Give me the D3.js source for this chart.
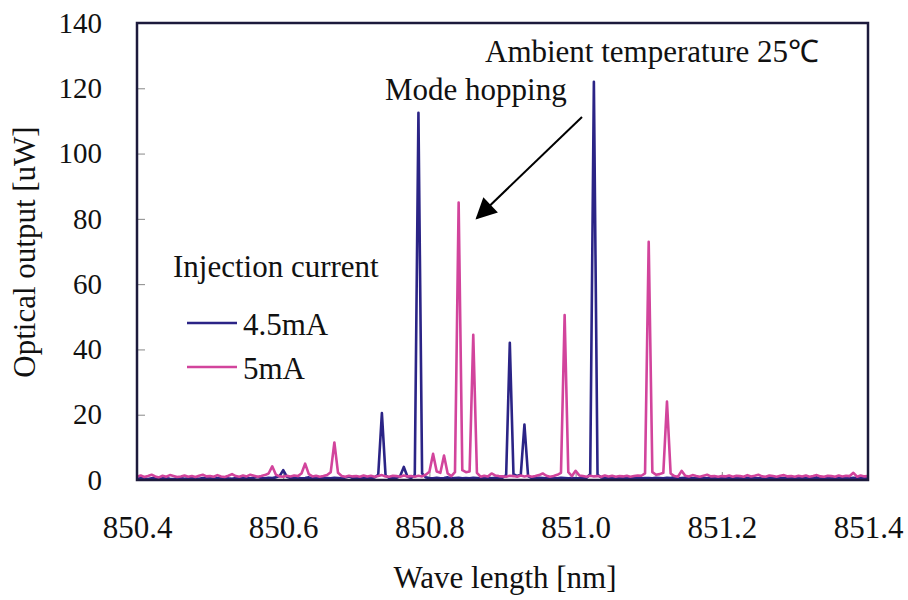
<!DOCTYPE html>
<html>
<head>
<meta charset="utf-8">
<script src="https://cdn.jsdelivr.net/npm/d3@7"></script>
<style>
  body { margin: 0; background: #fff; }
</style>
</head>
<body>
<script>
const width = 908;
const height = 600;
const serif = "'Liberation Serif', 'Times New Roman', serif";

// spectrum sampled every 0.005 nm from 850.400 nm
const wlStart = 850.4;
const wlStep = 0.005;

// 4.5mA
const power45 = [
  0.4,0.6,0.5,0.3,0.5,0.7,0.4,0.5,0.6,0.4,0.3,0.5,0.6,0.4,0.5,0.7,0.5,0.4,0.6,0.5,
  0.5,0.4,0.6,0.5,0.7,0.5,0.4,0.6,0.5,0.8,0.6,0.5,0.7,0.9,0.6,0.5,0.7,0.6,0.8,1.2,
  3.0,1.0,0.6,0.5,0.7,0.5,0.6,0.8,0.5,0.6,0.5,0.7,0.6,0.5,0.7,0.6,0.5,0.8,1.1,0.6,
  0.5,0.7,0.6,0.5,0.6,0.8,1.6,20.5,1.4,0.6,0.5,0.7,1.2,4.0,1.0,0.6,1.5,112.5,2.0,0.8,
  0.6,0.5,0.7,0.5,0.6,0.8,0.5,0.6,0.7,0.5,0.6,0.5,0.7,0.6,0.5,0.6,0.8,0.5,0.7,0.6,
  0.7,1.5,42.0,1.8,1.2,1.6,17.0,1.2,0.6,0.5,0.7,0.6,0.5,0.8,0.6,0.5,0.7,0.6,0.5,0.6,
  0.5,0.6,0.8,0.7,1.8,122.0,1.6,0.8,0.6,0.5,0.7,0.6,0.5,0.6,0.8,0.5,0.6,0.7,0.5,0.6,
  0.6,0.5,0.7,0.6,0.5,0.7,0.6,0.8,0.5,0.6,0.7,0.5,0.6,0.5,0.7,0.6,0.5,0.8,0.6,0.5,
  0.6,0.7,0.5,0.6,0.8,0.5,0.6,0.7,0.5,0.6,0.5,0.7,0.6,0.5,0.6,0.8,0.5,0.6,0.7,0.5,
  0.6,0.5,0.7,0.6,0.5,0.6,0.8,0.5,0.6,0.7,0.5,0.6,0.5,0.7,0.6,0.5,0.7,0.6,0.5,0.6,
  0.5
];

// 5mA
const power5 = [
  1.0,1.4,0.9,1.2,1.6,1.1,0.8,1.3,1.0,1.5,1.2,0.9,1.1,1.4,1.0,1.2,0.9,1.3,1.6,1.1,
  1.2,1.0,1.5,1.1,0.9,1.3,1.8,1.2,1.0,1.4,1.1,1.6,1.3,1.0,1.2,1.5,2.0,4.2,1.6,1.1,
  1.0,1.3,1.1,1.4,1.2,2.0,5.0,1.8,1.1,1.3,1.0,1.2,1.5,2.4,11.5,2.2,1.2,1.0,1.3,1.1,
  1.2,1.0,1.4,1.1,1.3,1.0,1.2,1.5,1.1,1.0,1.3,1.2,1.0,1.4,1.1,1.2,1.0,1.3,1.1,1.6,
  2.5,8.0,2.6,2.2,7.5,2.0,1.2,2.4,85.0,3.0,2.4,2.6,44.5,2.2,1.0,1.3,1.1,2.0,1.4,1.2,
  1.1,1.0,1.3,1.2,1.0,1.4,1.1,1.3,1.0,1.2,1.5,2.0,1.3,1.0,1.2,1.6,2.2,50.5,2.4,1.2,
  2.8,1.4,1.2,1.0,1.3,1.1,1.2,1.0,1.4,1.1,1.3,1.0,1.2,1.1,1.3,1.0,1.2,1.4,1.3,2.0,
  73.0,2.4,1.6,1.8,2.2,24.0,2.0,1.2,1.0,2.8,1.3,1.1,1.5,1.2,1.0,1.3,1.6,1.1,1.2,1.0,
  1.2,1.1,1.4,1.0,1.3,1.2,1.0,1.5,1.1,1.3,1.6,1.1,1.0,1.4,1.2,1.0,1.3,1.5,1.1,1.2,
  1.0,1.3,1.1,1.4,1.0,1.2,1.5,1.1,1.0,1.3,1.2,1.0,1.4,1.1,1.3,1.2,2.2,1.0,1.4,1.1,
  1.2
];

const xTicks = [850.4, 850.6, 850.8, 851.0, 851.2, 851.4];
const yTicks = [0, 20, 40, 60, 80, 100, 120, 140];
const seriesNames = ["4.5mA", "5mA"];
const seriesColors = ["#2b2486", "#d2449c"];

const svg = d3.select("body").append("svg")
    .attr("width", width)
    .attr("height", height);

const x = d3.scaleLinear().domain([850.4, 851.4]).range([137, 868]);
const y = d3.scaleLinear().domain([0, 140]).range([480, 23]);

// axes (inside ticks like excel)
const xAxis = svg.append("g")
    .attr("transform", "translate(0,480)")
    .call(d3.axisBottom(x).tickValues(xTicks).tickFormat(d3.format(".1f"))
      .tickSize(-8).tickPadding(36));
xAxis.select(".domain").remove();
xAxis.selectAll("line").attr("stroke", "#888");
xAxis.selectAll("text").attr("font-size", 31);

const yAxis = svg.append("g")
    .attr("transform", "translate(137,0)")
    .call(d3.axisLeft(y).tickValues(yTicks).tickSize(-8).tickPadding(35));
yAxis.select(".domain").remove();
yAxis.selectAll("line").attr("stroke", "#888");
yAxis.selectAll("text").attr("font-size", 29);

const line = d3.line()
    .x((d, i) => x(wlStart + i * wlStep))
    .y(d => y(d));

[power45, power5].forEach(function(vals, k) {
  svg.append("path")
    .datum(vals)
    .attr("fill", "none")
    .attr("stroke", seriesColors[k])
    .attr("stroke-width", 2.6)
    .attr("stroke-linejoin", "round")
    .attr("d", line);
});

// frame
svg.append("rect")
    .attr("x", x(850.4)).attr("y", y(140))
    .attr("width", x(851.4) - x(850.4))
    .attr("height", y(0) - y(140))
    .attr("fill", "none")
    .attr("stroke", "#1c1a3c")
    .attr("stroke-width", 2.5);

// axis titles
svg.append("text")
    .attr("x", 505).attr("y", 588)
    .attr("text-anchor", "middle")
    .attr("font-size", 31)
    .text("Wave length [nm]");

svg.append("text")
    .attr("transform", "translate(35,252) rotate(-90)")
    .attr("text-anchor", "middle")
    .attr("font-size", 31)
    .text("Optical output [uW]");

// legend
svg.append("text")
    .attr("x", 173).attr("y", 277)
    .attr("font-size", 31)
    .text("Injection current");

const legendY = [323, 367];
seriesNames.forEach(function(name, k) {
  svg.append("line")
    .attr("x1", 187).attr("x2", 237)
    .attr("y1", legendY[k]).attr("y2", legendY[k])
    .attr("stroke", seriesColors[k])
    .attr("stroke-width", 2.5);
  svg.append("text")
    .attr("x", 243).attr("y", legendY[k] + 12)
    .attr("font-size", 31)
    .text(name);
});

// annotations
svg.append("text")
    .attr("x", 485).attr("y", 62)
    .attr("font-size", 31)
    .text("Ambient temperature 25\u2103");

svg.append("text")
    .attr("x", 385).attr("y", 100)
    .attr("font-size", 31)
    .text("Mode hopping");

svg.append("defs").append("marker")
    .attr("id", "arrow")
    .attr("viewBox", "0 0 10 10")
    .attr("refX", 9).attr("refY", 5)
    .attr("markerWidth", 26).attr("markerHeight", 21)
    .attr("markerUnits", "userSpaceOnUse")
    .attr("orient", "auto")
  .append("path")
    .attr("d", "M0,0 L10,5 L0,10 Z")
    .attr("fill", "#000");

svg.append("line")
    .attr("x1", 582).attr("y1", 117)
    .attr("x2", 477).attr("y2", 218)
    .attr("stroke", "#000")
    .attr("stroke-width", 2)
    .attr("marker-end", "url(#arrow)");

// serif everywhere (inline style so it wins over the axis defaults)
svg.selectAll("text")
    .style("font-family", serif)
    .style("fill", "#111");
</script>
</body>
</html>
